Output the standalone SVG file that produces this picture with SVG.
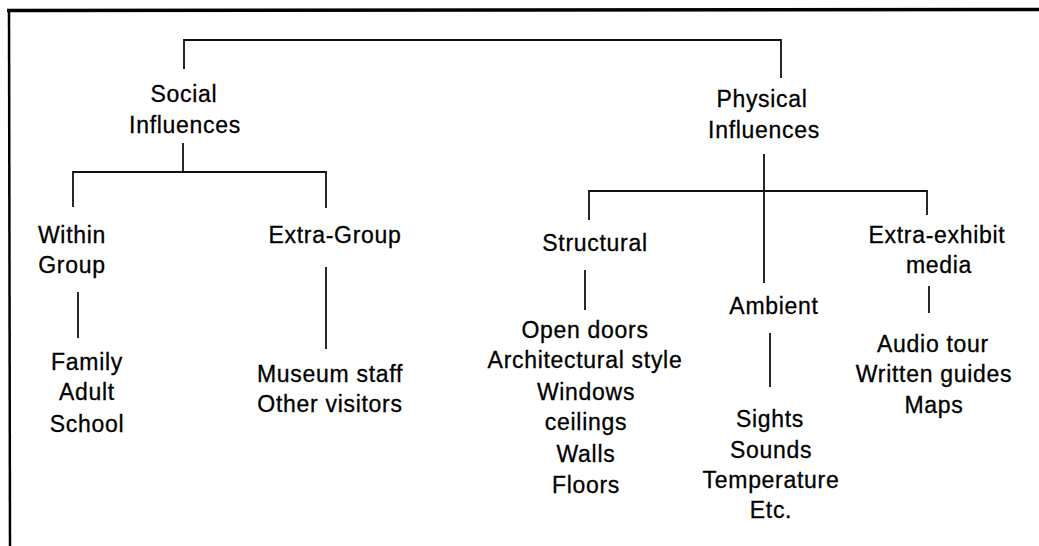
<svg xmlns="http://www.w3.org/2000/svg" width="1039" height="546" viewBox="0 0 1039 546">
<style>
text{font-family:"Liberation Sans",Arial,sans-serif;font-size:23px;letter-spacing:0.7px;fill:#000;stroke:#000;stroke-width:0.3px;text-anchor:middle}
.c{stroke:#111;stroke-width:1.8;fill:none}
.frame{stroke:#000;fill:none}
</style>
<rect width="1039" height="546" fill="#fff"/>
<g id="frame">
<line class="frame" x1="7" y1="10.5" x2="1039" y2="9.5" stroke-width="3.5"/>
<line class="frame" x1="9" y1="9" x2="10" y2="546" stroke-width="2.5"/>
</g>
<g id="connectors">
<polyline class="c" points="184,69 184,40 781,40 781,78"/>
<line class="c" x1="183" y1="143" x2="183" y2="172"/>
<polyline class="c" points="73,207 73,172 326,172 326,208"/>
<line class="c" x1="78" y1="292" x2="78" y2="338"/>
<line class="c" x1="326" y1="267" x2="326" y2="349"/>
<line class="c" x1="764" y1="154" x2="764" y2="283"/>
<polyline class="c" points="589,220 589,191 927,191 927,215"/>
<line class="c" x1="585" y1="270" x2="585" y2="310"/>
<line class="c" x1="770" y1="333" x2="770" y2="387"/>
<line class="c" x1="929" y1="286" x2="929" y2="313"/>
</g>
<g id="social"><text x="184" y="102">Social</text><text x="185" y="133">Influences</text></g>
<g id="physical"><text x="762" y="107">Physical</text><text x="764" y="138">Influences</text></g>
<g id="within"><text x="72" y="243">Within</text><text x="72" y="273">Group</text></g>
<g id="extragroup"><text x="335" y="243">Extra-Group</text></g>
<g id="within-items"><text x="87" y="370">Family</text><text x="87" y="400">Adult</text><text x="87" y="432">School</text></g>
<g id="extragroup-items"><text x="330" y="382">Museum staff</text><text x="330" y="412">Other visitors</text></g>
<g id="structural"><text x="595" y="251">Structural</text></g>
<g id="ambient"><text x="774" y="314">Ambient</text></g>
<g id="extraexhibit"><text x="937" y="243">Extra-exhibit</text><text x="939" y="273">media</text></g>
<g id="structural-items"><text x="585" y="338">Open doors</text><text x="585" y="368">Architectural style</text><text x="586" y="400">Windows</text><text x="586" y="430">ceilings</text><text x="586" y="462">Walls</text><text x="586" y="493">Floors</text></g>
<g id="ambient-items"><text x="770" y="427">Sights</text><text x="771" y="458">Sounds</text><text x="771" y="488">Temperature</text><text x="771" y="518">Etc.</text></g>
<g id="media-items"><text x="933" y="352">Audio tour</text><text x="934" y="382">Written guides</text><text x="934" y="413">Maps</text></g>
</svg>
